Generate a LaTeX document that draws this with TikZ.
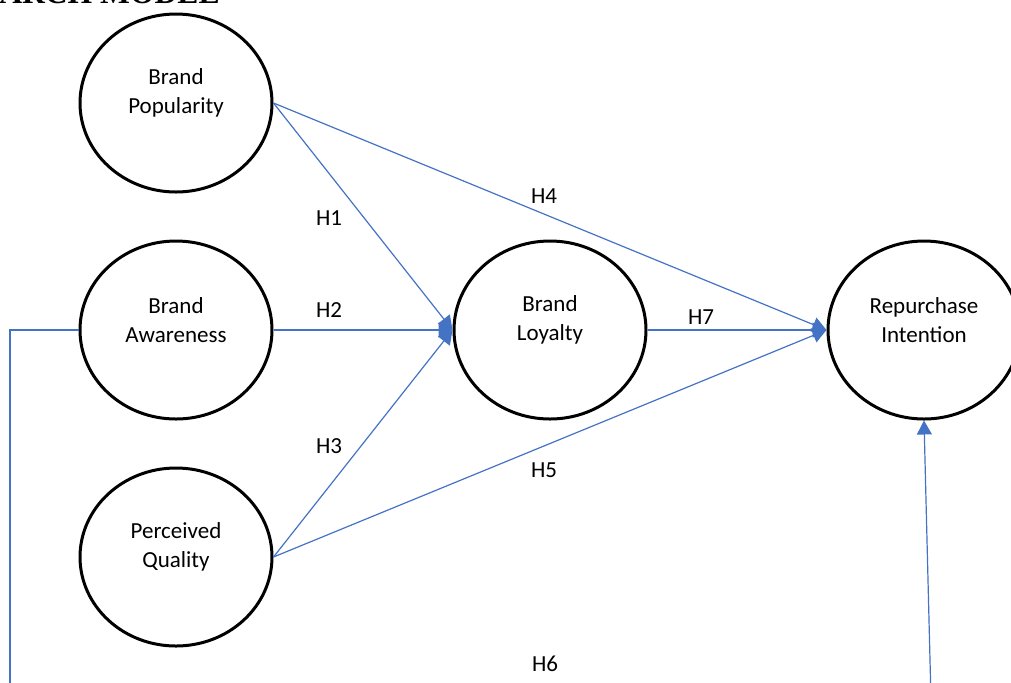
\documentclass[tikz,border=0pt]{standalone}
\usepackage{fontspec}
\setmainfont{Carlito}
\newfontfamily\titlefont{Liberation Serif}
\usetikzlibrary{arrows.meta,positioning,shapes.geometric}
\definecolor{linkblue}{HTML}{4472C4}

\begin{document}
\begin{tikzpicture}[
    x=0.5pt, y=-0.5pt,
    node distance=23pt and 89.5pt,
    construct/.style={draw, ellipse, line width=1.5pt, minimum width=96pt, minimum height=89pt, inner sep=0pt},
    cname/.style={align=center, font=\fontsize{11.5}{14.5}\selectfont, yshift=5pt},
    hyp/.style={font=\fontsize{11.5}{14}\selectfont},
    link/.style={draw=linkblue, line width=0.6pt},
    arrow/.style={link, -{Triangle[length=7pt, width=7.5pt]}}
  ]
    \useasboundingbox (0,0) rectangle (1011,682);
    \clip (0,0) rectangle (1011,682);

    \node[font=\titlefont\bfseries\fontsize{15.8}{18}\selectfont, anchor=base east, inner sep=0pt] (title) at (220,3) {RESEARCH MODEL};

    \node[construct, label={[cname]center:Brand\\Awareness}] (aware) at (176,330) {};
    \node[construct, above=of aware, label={[cname]center:Brand\\Popularity}] (pop) {};
    \node[construct, below=of aware, label={[cname]center:Perceived\\Quality}] (qual) {};
    \node[construct, right=of aware, label={[cname]center:Brand\\Loyalty}] (loy) {};
    \node[construct, right=of loy, label={[cname]center:Repurchase\\Intention}] (rep) {};

    \node[hyp] (h1) at (329,218) {H1};
    \node[hyp] (h2) at (329,310) {H2};
    \node[hyp] (h3) at (329,446) {H3};
    \node[hyp] (h4) at (544,196) {H4};
    \node[hyp] (h5) at (544,470) {H5};
    \node[hyp] (h6) at (545,664) {H6};
    \node[hyp] (h7) at (701,317) {H7};

    \coordinate (h6l) at (10,700);
    \coordinate (h6r) at (931,700);

    \draw[arrow] (pop.east) -- (loy.west);
    \draw[arrow] (pop.east) -- (rep.west);
    \draw[arrow] (aware.east) -- (loy.west);
    \draw[arrow] (qual.east) -- (loy.west);
    \draw[arrow] (qual.east) -- (rep.west);
    \draw[arrow] (loy.east) -- (rep.west);
    \draw[link] (aware.west) -| (h6l);
    \draw[arrow] (h6r) -- (rep.south);
  \end{tikzpicture}
\end{document}
